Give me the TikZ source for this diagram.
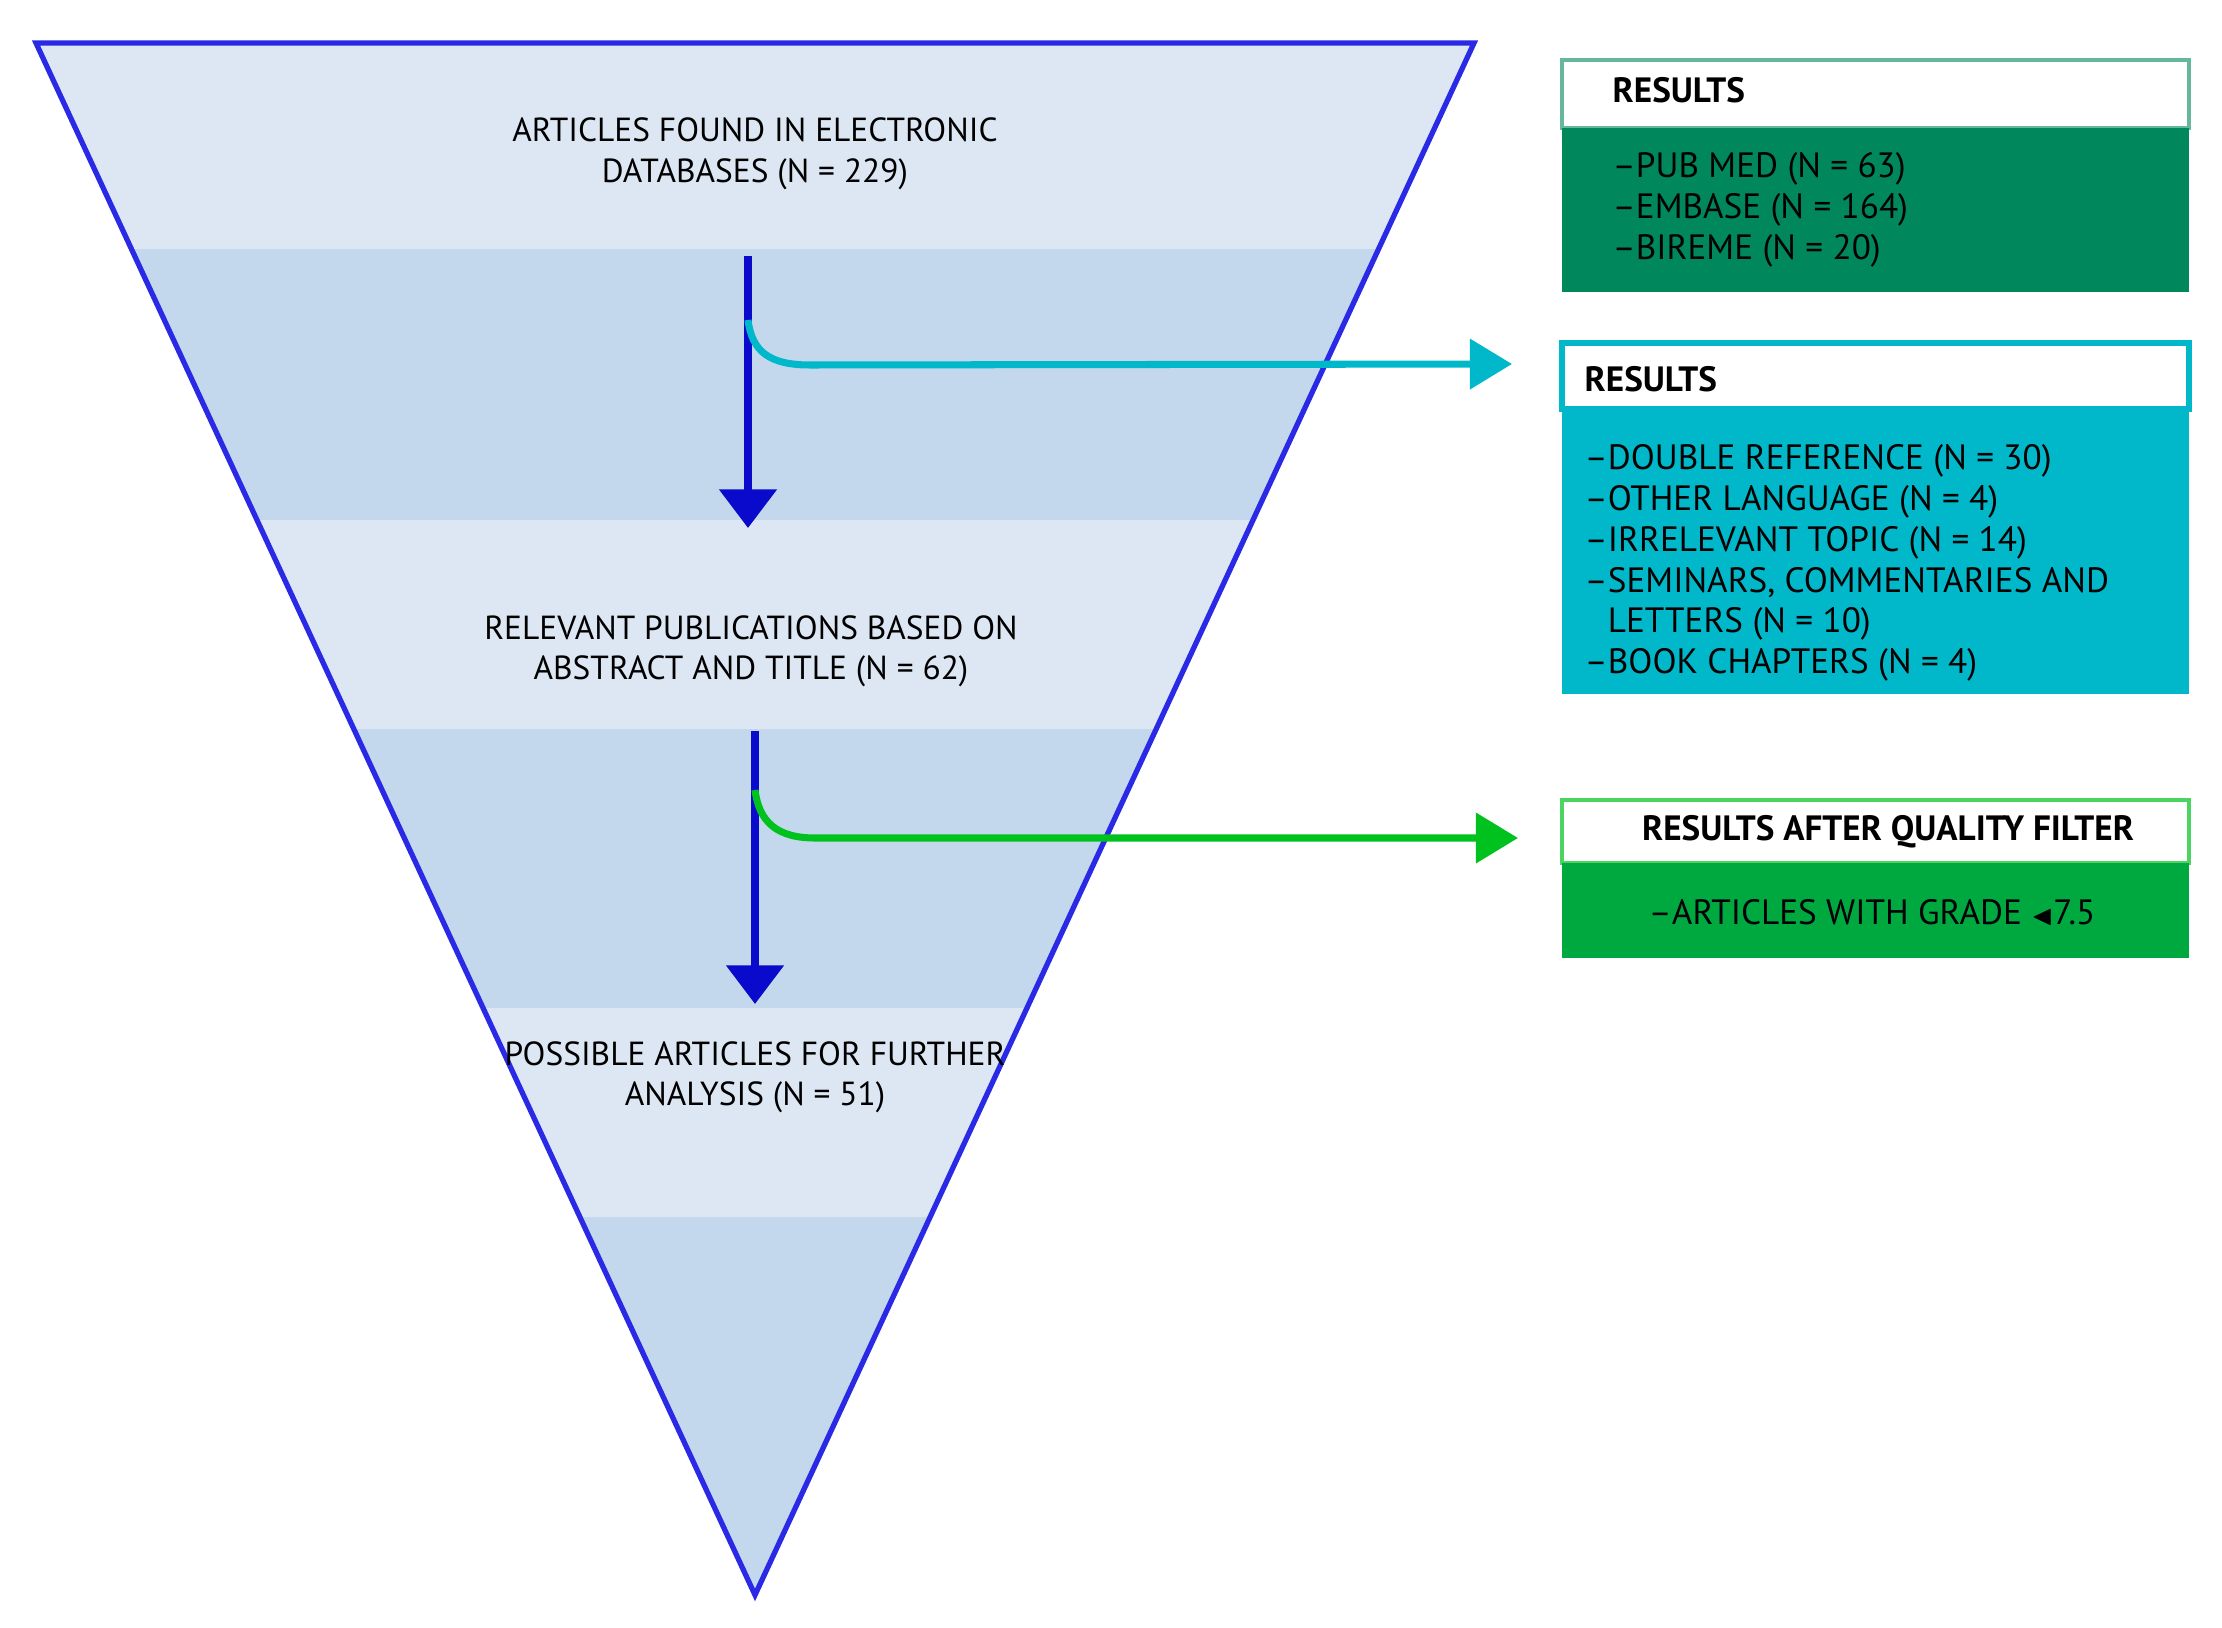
\documentclass[tikz,border=0pt]{standalone}
\usepackage{amssymb}
\usepackage{fontspec}
\setmainfont{PT Sans}
\usetikzlibrary{arrows.meta}
\definecolor{lb}{HTML}{DCE7F3}
\definecolor{db}{HTML}{C3D8EC}
\definecolor{tb}{HTML}{2A2AE6}
\definecolor{ab}{HTML}{0A0ACC}
\definecolor{cy}{HTML}{00B8C9}
\definecolor{gA}{HTML}{00885C}
\definecolor{gB}{HTML}{00A940}
\definecolor{ga}{HTML}{00C21E}
\begin{document}
\begin{tikzpicture}[x=0.01cm,y=-0.01cm,
  lbl/.style={align=center,font=\fontsize{9.5}{11.5}\selectfont,inner sep=0pt},
  hd/.style={font=\bfseries\fontsize{10}{12}\selectfont,inner sep=0pt},
  bd/.style={align=left,font=\fontsize{10}{11.6}\selectfont,inner sep=0pt},
  darr/.style={ab,line width=2.2pt,-{Triangle[width=16pt,length=11pt]}},
  barr/.style={line width=2pt,-{Triangle[width=14pt,length=12pt]}}]
\useasboundingbox (0,0) rectangle (2222,1628);
% triangle bands
\begin{scope}
\clip (36,43) -- (1474,43) -- (755,1595) -- cycle;
\fill[lb] (0,43) rectangle (1500,249);
\fill[db] (0,249) rectangle (1500,520);
\fill[lb] (0,520) rectangle (1500,729);
\fill[db] (0,729) rectangle (1500,1008);
\fill[lb] (0,1008) rectangle (1500,1217);
\fill[db] (0,1217) rectangle (1500,1600);
\end{scope}
\draw[tb,line width=1.5pt] (36,43) -- (1474,43) -- (755,1595) -- cycle;
\node[lbl] (t1) at (755,154) {ARTICLES FOUND IN ELECTRONIC\\DATABASES (N = 229)};
\node[lbl] (t2) at (751,651) {RELEVANT PUBLICATIONS BASED ON\\ABSTRACT AND TITLE (N = 62)};
\node[lbl] (t3) at (755,1077) {POSSIBLE ARTICLES FOR FURTHER\\ANALYSIS (N = 51)};
\coordinate (a1s) at (748,256); \coordinate (a1e) at (748,528);
\coordinate (a2s) at (755,731); \coordinate (a2e) at (755,1004);
\draw[darr] (a1s) -- (a1e);
\draw[darr] (a2s) -- (a2e);
% boxes
\draw[gA!60,line width=1pt,fill=white] (1562,60) rectangle (2189,128);
\fill[gA] (1562,128) rectangle (2189,292);
\node[hd,anchor=west] (h1) at (1612,90) {RESULTS};
\node[bd,anchor=north west] (b1) at (1612,152) {–PUB MED (N = 63)\\–EMBASE (N = 164)\\–BIREME (N = 20)};
\draw[cy,line width=1.5pt,fill=white] (1562,343) rectangle (2189,409);
\fill[cy] (1562,409) rectangle (2189,694);
\node[hd,anchor=west] (h2) at (1584,379) {RESULTS};
\node[bd,anchor=north west] (b2) at (1584,444) {–DOUBLE REFERENCE (N = 30)\\–OTHER LANGUAGE (N = 4)\\–IRRELEVANT TOPIC (N = 14)\\–SEMINARS, COMMENTARIES AND\\\phantom{–}LETTERS (N = 10)\\–BOOK CHAPTERS (N = 4)};
\draw[ga!70,line width=1.2pt,fill=white] (1562,800) rectangle (2189,863);
\fill[gB] (1562,863) rectangle (2189,958);
\node[hd] (h3) at (1888,832) {RESULTS AFTER QUALITY FILTER};
\node[bd,anchor=west] (b3) at (1648,912) {–ARTICLES WITH GRADE {\footnotesize$\blacktriangleleft$}7.5};
% branches
\coordinate (c1) at (748,320); \coordinate (c2) at (755,790);
\coordinate (e1) at (1512,364); \coordinate (e2) at (1518,838);
\draw[barr,cy] (c1) .. controls (752,352) and (770,365) .. (810,365) -- (e1);
\draw[barr,ga] (c2) .. controls (759,822) and (777,838) .. (815,838) -- (e2);
\end{tikzpicture}
\end{document}
